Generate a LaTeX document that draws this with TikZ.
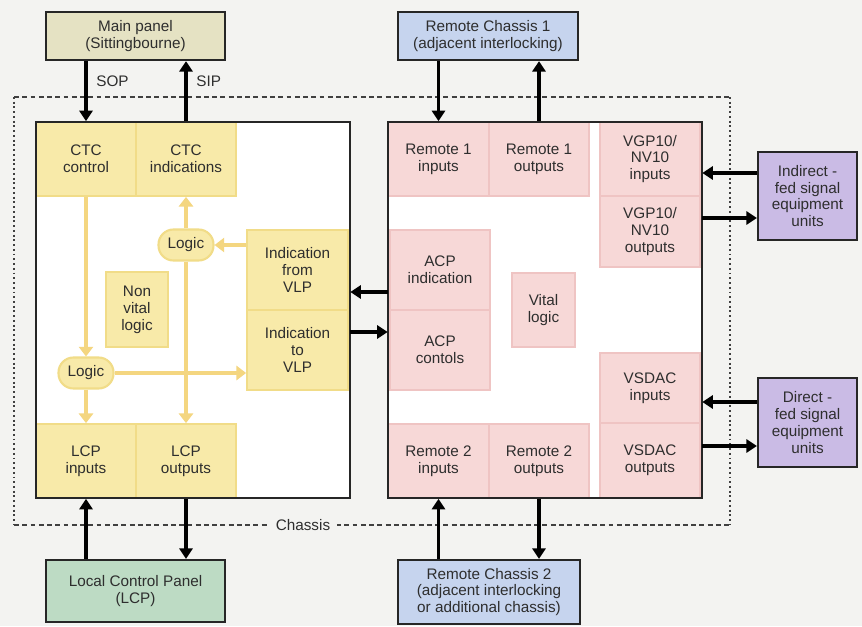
\documentclass[tikz,border=0pt]{standalone}
\usepackage{fontspec}
\setmainfont{Liberation Sans}
\usetikzlibrary{arrows.meta}
\definecolor{bgcol}{HTML}{F3F3F1}
\definecolor{ctcyel}{HTML}{F8EAA9}
\definecolor{ctcline}{HTML}{F1DC88}
\definecolor{yarr}{HTML}{F4D680}
\definecolor{vitpink}{HTML}{F7D8D7}
\definecolor{vitline}{HTML}{EFC4C3}
\definecolor{mainbeige}{HTML}{E5E2C3}
\definecolor{remblue}{HTML}{C6D4EE}
\definecolor{sigpurple}{HTML}{CABBE5}
\definecolor{lcpgreen}{HTML}{BDDBC4}
\definecolor{txt}{HTML}{2E2E2E}
\tikzset{
  every node/.style={font=\fontsize{8.7}{9.6}\selectfont, text=txt, align=center, inner sep=0pt},
  ycell/.style={fill=ctcyel, draw=ctcline, line width=1pt},
  pcell/.style={fill=vitpink, draw=vitline, line width=1pt},
  logicbox/.style={fill=ctcyel, draw=ctcline, line width=1.2pt, rounded corners=8.5pt,
    minimum width=1.1cm, minimum height=0.62cm},
  extbox/.style={draw=black!85, line width=1.3pt},
  bigbox/.style={fill=white, minimum width=6.28cm, minimum height=7.52cm},
  boxline/.style={draw=black!85, line width=1.2pt},
  bigarrow/.style={draw=black, line width=1.8pt, -{Triangle[length=6pt,width=7.5pt]}},
  yarrow/.style={draw=yarr, line width=2pt, -{Triangle[length=5.5pt,width=8pt]}},
  chassisdash/.style={draw=black!75, line width=1.1pt, dash pattern=on 2.8pt off 1.9pt},
  chassisdot/.style={draw=black!75, line width=1.1pt, dash pattern=on 1.1pt off 1.6pt},
}
\begin{document}
\begin{tikzpicture}[x=0.02cm,y=-0.02cm]
  %% Background
  \fill[bgcol] (0,0) rectangle (862,626);
  %% Chassis outline
  \coordinate (cnw) at (14,97);
  \coordinate (cse) at (730,525);
  \draw[chassisdash] (cnw) -- (cnw -| cse);
  \draw[chassisdash] (cnw |- cse) -- (cse);
  \draw[chassisdot] (cnw) -- (cnw |- cse);
  \draw[chassisdot] (cnw -| cse) -- (cse);
  \node[fill=bgcol, inner xsep=4pt, inner ysep=2pt] (chassis) at (303,525) {Chassis};

  %% Outside units
  \node[extbox, fill=mainbeige, minimum width=3.58cm, minimum height=0.96cm] (main) at (135.5,36) {Main panel\\(Sittingbourne)};
  \node[extbox, fill=remblue, minimum width=3.6cm, minimum height=0.96cm] (rc1) at (488,36) {Remote Chassis 1\\(adjacent interlocking)};
  \node[extbox, fill=lcpgreen, minimum width=3.58cm, minimum height=1.24cm] (lcp) at (135.5,591) {Local Control Panel\\(LCP)};
  \node[extbox, fill=remblue, minimum width=3.64cm, minimum height=1.28cm] (rc2) at (489,592) {Remote Chassis 2\\(adjacent interlocking\\or additional chassis)};
  \node[extbox, fill=sigpurple, minimum width=1.98cm, minimum height=1.76cm] (ind) at (807.5,196) {Indirect -\\fed signal\\equipment\\units};
  \node[extbox, fill=sigpurple, minimum width=1.98cm, minimum height=1.78cm] (dir) at (807.5,422.5) {Direct -\\fed signal\\equipment\\units};

  %% Non vital side
  \node[bigbox] (lbox) at (193,310) {};
  \node[ycell, minimum width=2cm, minimum height=1.48cm] (ctcc) at (86,159) {CTC\\control};
  \node[ycell, minimum width=2cm, minimum height=1.48cm] (ctci) at (186,159) {CTC\\indications};
  \node[ycell, minimum width=2cm, minimum height=1.48cm] (lcpi) at (86,461) {LCP\\inputs};
  \node[ycell, minimum width=2cm, minimum height=1.48cm] (lcpo) at (186,461) {LCP\\outputs};
  \node[ycell, minimum width=2.02cm, minimum height=1.6cm] (ifv) at (297.5,270) {Indication\\from\\VLP};
  \node[ycell, minimum width=2.02cm, minimum height=1.6cm] (itv) at (297.5,350) {Indication\\to\\VLP};
  \node[ycell, minimum width=1.24cm, minimum height=1.5cm] (nvl) at (137,309.5) {Non\\vital\\logic};
  \node[logicbox] (logtop) at (186,245) {Logic};
  \node[logicbox] (logbot) at (86,373) {Logic};
  \draw[boxline] (lbox.south west) rectangle (lbox.north east);

  %% Vital side
  \node[bigbox] (rbox) at (545,310) {};
  \node[pcell, minimum width=2.02cm, minimum height=1.48cm] (r1i) at (438.5,159) {Remote 1\\inputs};
  \node[pcell, minimum width=2cm, minimum height=1.48cm] (r1o) at (539,159) {Remote 1\\outputs};
  \node[pcell, minimum width=2.02cm, minimum height=1.48cm] (r2i) at (438.5,461) {Remote 2\\inputs};
  \node[pcell, minimum width=2cm, minimum height=1.48cm] (r2o) at (539,461) {Remote 2\\outputs};
  \node[pcell, minimum width=2cm, minimum height=1.48cm] (vgpi) at (650,159) {VGP10/\\NV10\\inputs};
  \node[pcell, minimum width=2cm, minimum height=1.42cm] (vgpo) at (650,231.5) {VGP10/\\NV10\\outputs};
  \node[pcell, minimum width=2cm, minimum height=1.6cm] (acpi) at (440,270) {ACP\\indication};
  \node[pcell, minimum width=2cm, minimum height=1.6cm] (acpc) at (440,350) {ACP\\contols};
  \node[pcell, minimum width=1.26cm, minimum height=1.48cm] (vl) at (543.5,310) {Vital\\logic};
  \node[pcell, minimum width=2cm, minimum height=1.4cm] (vsi) at (650,388) {VSDAC\\inputs};
  \node[pcell, minimum width=2cm, minimum height=1.5cm] (vso) at (650,460.5) {VSDAC\\outputs};
  \draw[boxline] (rbox.south west) rectangle (rbox.north east);

  %% Logic flow
  \draw[yarrow] (ctcc.south) -- (logbot.north);
  \draw[yarrow] (logbot.south) -- (lcpi.north);
  \draw[yarrow] (logbot.east) -- (logbot.east -| itv.west);
  \draw[yarrow] (logtop.north) -- (ctci.south);
  \draw[yarrow] (logtop.south) -- (lcpo.north);
  \draw[yarrow] (logtop.east -| ifv.west) -- (logtop.east);

  %% Links
  \draw[bigarrow] (main.south -| ctcc) -- (ctcc.north) node[pos=0.33, right=5pt] {SOP};
  \draw[bigarrow] (ctci.north) -- (main.south -| ctci) node[pos=0.67, right=5pt] {SIP};
  \draw[bigarrow] (rc1.south -| r1i) -- (r1i.north);
  \draw[bigarrow] (r1o.north) -- (rc1.south -| r1o);
  \draw[bigarrow] (lcp.north -| lcpi) -- (lcpi.south);
  \draw[bigarrow] (lcpo.south) -- (lcp.north -| lcpo);
  \draw[bigarrow] (rc2.north -| r2i) -- (r2i.south);
  \draw[bigarrow] (r2o.south) -- (rc2.north -| r2o);
  \draw[bigarrow] ([yshift=0.36cm]rbox.west) -- ([yshift=0.36cm]lbox.east);
  \draw[bigarrow] ([yshift=-0.44cm]lbox.east) -- ([yshift=-0.44cm]rbox.west);
  \draw[bigarrow] ([yshift=0.46cm]ind.west) -- ([yshift=0.46cm]ind.west -| rbox.east);
  \draw[bigarrow] ([yshift=-0.44cm]ind.west -| rbox.east) -- ([yshift=-0.44cm]ind.west);
  \draw[bigarrow] ([yshift=0.41cm]dir.west) -- ([yshift=0.41cm]dir.west -| rbox.east);
  \draw[bigarrow] ([yshift=-0.47cm]dir.west -| rbox.east) -- ([yshift=-0.47cm]dir.west);
\end{tikzpicture}
\end{document}
